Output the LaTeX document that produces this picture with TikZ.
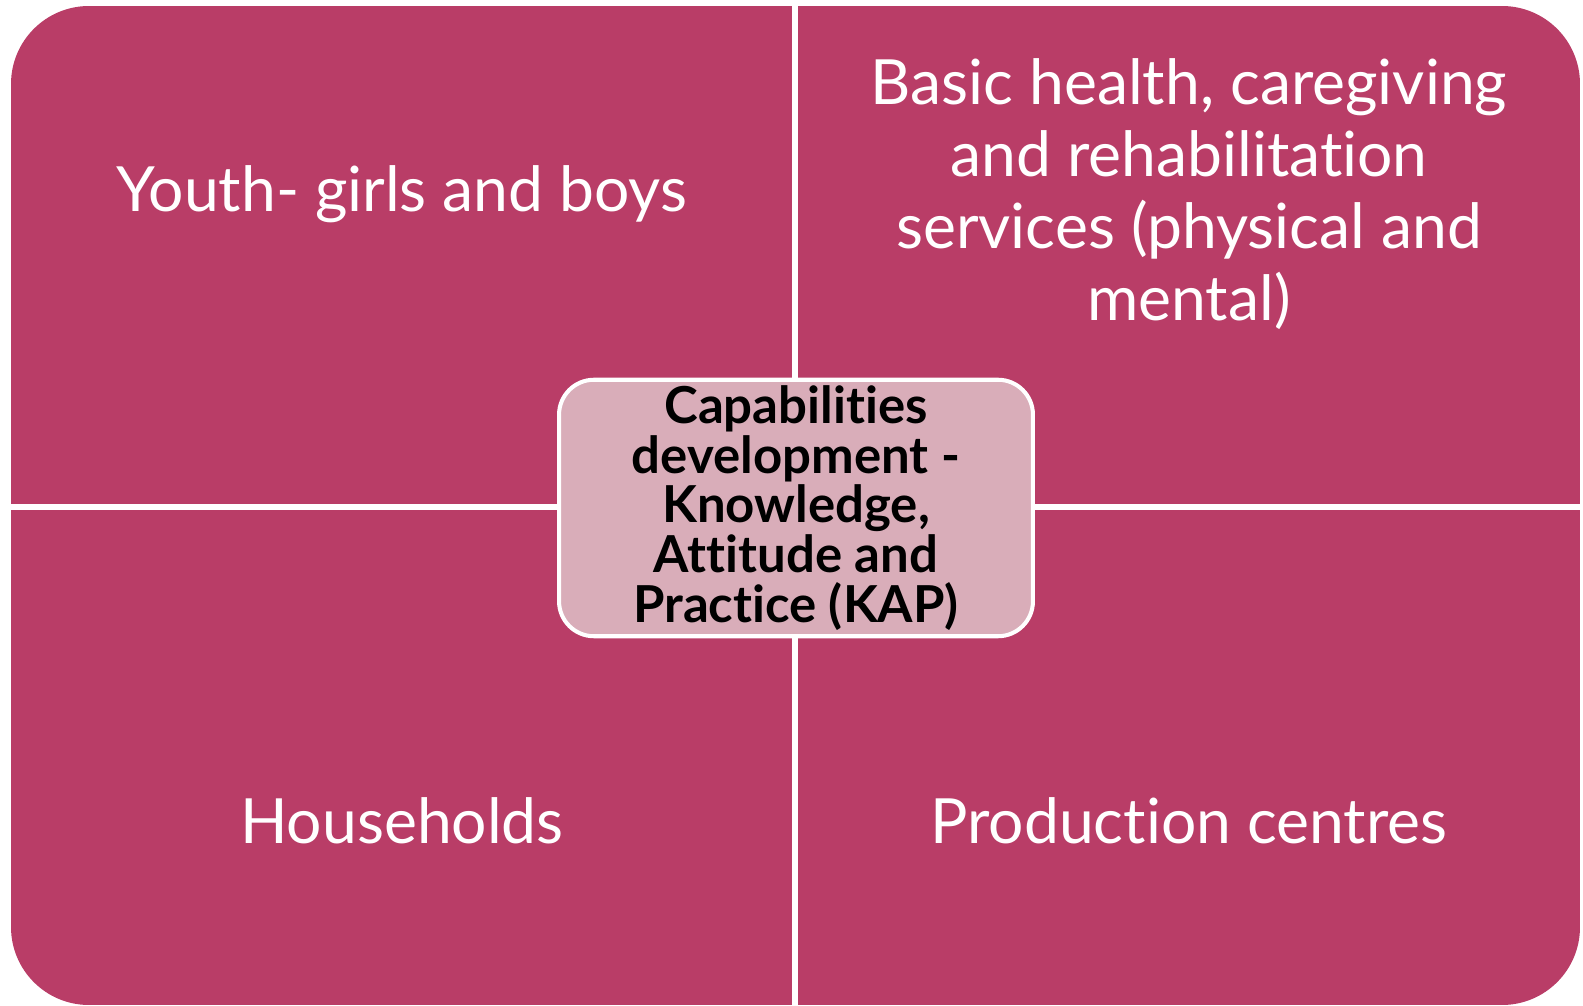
\documentclass[tikz,border=0pt]{standalone}
\usepackage{fontspec}
\setmainfont{Lato}[Ligatures=NoCommon]
\usepackage{tikz}
\begin{document}
\begin{tikzpicture}[x=0.02cm,y=-0.02cm]
\definecolor{cq}{rgb}{0.725,0.239,0.404}
\definecolor{cfc}{rgb}{0.851,0.678,0.725}
\definecolor{clq}{rgb}{1.0,1.0,1.0}
\definecolor{clc}{rgb}{0.0,0.0,0.0}
\tikzset{quad/.style={fill=cq,draw=none},
  qtext/.style={text=clq,align=center,font=\fontsize{35.5}{41}\selectfont},
  core/.style={draw=white,line width=2.3pt,fill=cfc,rounded corners=0.7cm,minimum width=9.48cm,minimum height=5.08cm,text=clc,align=center,font=\bfseries\fontsize{29}{28.3}\selectfont}}
\useasboundingbox (0,0) rectangle (1583,1006);
%
\begin{scope}
\clip[rounded corners=1.56cm] (11,6) rectangle (1580,1005);
\fill[quad] (11,6) rectangle (792,504);
\fill[quad] (798,6) rectangle (1580,504);
\fill[quad] (11,510) rectangle (792,1005);
\fill[quad] (798,510) rectangle (1580,1005);
\end{scope}
%
\node[qtext] (q1) at (402,194) {Youth- girls and boys};
\node[qtext] (q2) at (1189,194) {Basic health, caregiving\\and rehabilitation\\services (physical and\\mental)};
\node[qtext] (q3) at (402,821) {Households};
\node[qtext] (q4) at (1189,821) {Production centres};
%
\node[core] (c0) at (796,508) {Capabilities\\development -\\Knowledge,\\Attitude and\\Practice (KAP)};
%
\end{tikzpicture}
\end{document}
